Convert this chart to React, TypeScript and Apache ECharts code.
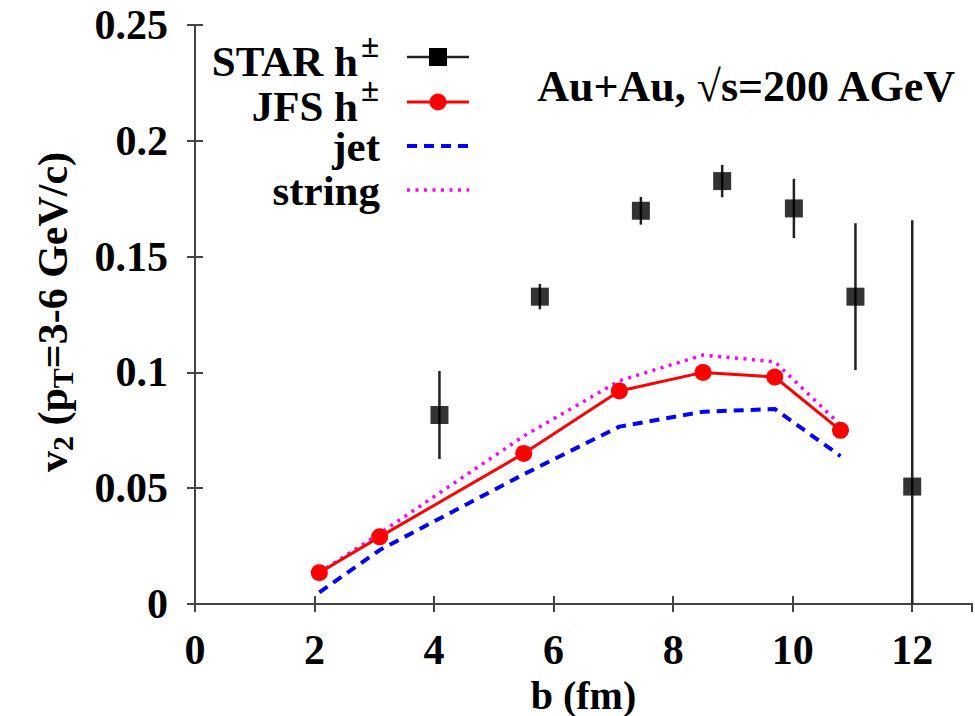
import React, { useEffect, useRef } from "react";
import * as echarts from "echarts";

// ---- data ----
const bModel = [2.08, 3.09, 5.5, 7.1, 8.5, 9.7, 10.8];
const v2JFS = [0.0135, 0.029, 0.065, 0.092, 0.1, 0.098, 0.075];
const v2Jet = [0.005, 0.0233, 0.056, 0.0766, 0.083, 0.0842, 0.0639];
const v2String = [0.0135, 0.0305, 0.0725, 0.0964, 0.1075, 0.1046, 0.0773];

const bStar = [4.09, 5.77, 7.46, 8.82, 10.02, 11.05, 12.0];
const v2Star = [0.0816, 0.1327, 0.1698, 0.1826, 0.1708, 0.1327, 0.0507];
const errStar = [0.019, 0.0055, 0.006, 0.007, 0.0128, 0.0317, 0.115];

const xTickValues = [0, 2, 4, 6, 8, 10, 12];
const yTickLabels = ["0", "0.05", "0.1", "0.15", "0.2", "0.25"];

const legendNames = ["STAR h", "JFS h", "jet", "string"];
const annotationText = "Au+Au, \u221As=200 AGeV";
const xTitle = "b (fm)";

const FONT = "Liberation Serif";
const AXIS_COLOR = "#444";
const RED = "#ff0000";
const BLUE = "#0000ff";
const MAGENTA = "#ff00ff";

export default function App() {
  const ref = useRef<HTMLDivElement>(null);

  useEffect(() => {
    if (!ref.current) return;
    const chart = echarts.init(ref.current, undefined, { renderer: "svg" });

    const zip = (xs: number[], ys: number[]) => xs.map((x, i) => [x, ys[i]]);
    const starData = bStar.map((x, i) => [x, v2Star[i], errStar[i]]);

    const tickStyle = {
      show: true,
      inside: true,
      length: 8,
      lineStyle: { color: AXIS_COLOR, width: 2 },
    };
    const axisLine = { show: true, lineStyle: { color: AXIS_COLOR, width: 2 } };
    const labelFont = {
      fontFamily: FONT,
      fontWeight: "bold" as const,
      fontSize: 42,
      color: "#000",
    };

    const legendRowsY = [57, 102, 146, 190];
    const legendTextX = 380;
    const sampleX0 = 407;
    const sampleX1 = 469;
    const sampleMid = 438;

    const textStyle = (text: string, size: number, align: string = "right", lh?: number) => ({
      text,
      fontFamily: FONT,
      fontWeight: "bold",
      fontSize: size,
      lineHeight: lh ?? size,
      fill: "#000",
      align,
      verticalAlign: "middle",
    });

    const graphic: any[] = [
      // legend texts
      { type: "text", x: 358, y: legendRowsY[0] + 4, style: textStyle(legendNames[0], 43, "right", 36) },
      { type: "text", x: 370, y: legendRowsY[0] - 11, style: textStyle("\u00B1", 33, "center", 20) },
      { type: "text", x: 358, y: legendRowsY[1] + 4, style: textStyle(legendNames[1], 43, "right", 36) },
      { type: "text", x: 370, y: legendRowsY[1] - 12, style: textStyle("\u00B1", 33, "center", 20) },
      { type: "text", x: legendTextX, y: legendRowsY[2], style: textStyle(legendNames[2], 43, "right", 36) },
      { type: "text", x: legendTextX, y: legendRowsY[3], style: textStyle(legendNames[3], 43, "right", 36) },
      // legend samples
      {
        type: "line",
        shape: { x1: sampleX0, y1: legendRowsY[0], x2: sampleX1, y2: legendRowsY[0] },
        style: { stroke: "#222", lineWidth: 2.5 },
      },
      {
        type: "rect",
        shape: { x: sampleMid - 9, y: legendRowsY[0] - 9, width: 18, height: 18 },
        style: { fill: "#000" },
      },
      {
        type: "line",
        shape: { x1: sampleX0, y1: legendRowsY[1], x2: sampleX1, y2: legendRowsY[1] },
        style: { stroke: RED, lineWidth: 3 },
      },
      {
        type: "circle",
        shape: { cx: sampleMid, cy: legendRowsY[1], r: 8.5 },
        style: { fill: RED },
      },
      {
        type: "line",
        shape: { x1: sampleX0, y1: legendRowsY[2], x2: sampleX1, y2: legendRowsY[2] },
        style: { stroke: BLUE, lineWidth: 4, lineDash: [10, 7] },
      },
      {
        type: "line",
        shape: { x1: sampleX0, y1: legendRowsY[3], x2: sampleX1, y2: legendRowsY[3] },
        style: { stroke: MAGENTA, lineWidth: 3.5, lineDash: [3, 5.5] },
      },
      // annotation
      { type: "text", x: 955, y: 86, style: textStyle(annotationText, 44, "right", 40) },
      // y axis title
      {
        type: "text",
        x: 53,
        y: 312,
        rotation: Math.PI / 2,
        style: {
          text: "{m|v}{s|2}{m| (p}{s|T}{m|=3-6 GeV/c)}",
          align: "center",
          verticalAlign: "middle",
          fill: "#000",
          rich: {
            m: { fontFamily: FONT, fontWeight: "bold", fontSize: 42, lineHeight: 50, fill: "#000" },
            s: {
              fontFamily: FONT,
              fontWeight: "bold",
              fontSize: 30,
              padding: [18, 0, 0, 0],
              fill: "#000",
            },
          },
        },
      },
    ];

    chart.setOption({
      animation: false,
      backgroundColor: "#fff",
      grid: {
        left: 195,
        right: 3,
        top: 25,
        bottom: 112,
        containLabel: false,
        outerBoundsMode: "none",
      },
      xAxis: [
        {
          type: "value",
          min: 0,
          max: 13,
          interval: 2,
          axisLine,
          axisTick: tickStyle,
          splitLine: { show: false },
          axisLabel: {
            ...labelFont,
            margin: 25,
            showMaxLabel: false,
            formatter: (v: number) => (xTickValues.includes(v) ? String(v) : ""),
          },
          name: xTitle,
          nameLocation: "middle",
          nameGap: 46,
          nameTextStyle: { ...labelFont, fontSize: 40, lineHeight: 30 },
        },
        {
          type: "value",
          position: "top",
          min: 0,
          max: 13,
          interval: 2,
          axisLine,
          axisTick: tickStyle,
          splitLine: { show: false },
          axisLabel: { show: false },
        },
      ],
      yAxis: [
        {
          type: "value",
          min: 0,
          max: 0.25,
          interval: 0.05,
          axisLine,
          axisTick: tickStyle,
          splitLine: { show: false },
          axisLabel: {
            ...labelFont,
            margin: 27,
            padding: [8, 0, 0, 0],
            formatter: (v: number) => yTickLabels[Math.round(v / 0.05)] ?? "",
          },
        },
        {
          type: "value",
          position: "right",
          min: 0,
          max: 0.25,
          interval: 0.05,
          axisLine,
          axisTick: tickStyle,
          splitLine: { show: false },
          axisLabel: { show: false },
        },
      ],
      series: [
        {
          name: "string",
          type: "line",
          data: zip(bModel, v2String),
          showSymbol: false,
          symbol: "none",
          lineStyle: { color: MAGENTA, width: 3.5, type: [3, 5.5] },
          z: 2,
        },
        {
          name: "jet",
          type: "line",
          data: zip(bModel, v2Jet),
          showSymbol: false,
          symbol: "none",
          lineStyle: { color: BLUE, width: 4, type: [10, 7] },
          z: 2,
        },
        {
          name: "JFS h",
          type: "line",
          data: zip(bModel, v2JFS),
          symbol: "circle",
          symbolSize: 17,
          itemStyle: { color: RED },
          lineStyle: { color: RED, width: 3 },
          z: 3,
        },
        {
          name: "STAR err",
          type: "custom",
          data: starData,
          renderItem: (params: any, api: any) => {
            const x = api.value(0);
            const y = api.value(1);
            const e = api.value(2);
            const top = api.coord([x, Math.min(y + e, 0.25)]);
            const bot = api.coord([x, Math.max(y - e, 0)]);
            return {
              type: "line",
              shape: { x1: top[0], y1: top[1], x2: bot[0], y2: bot[1] },
              style: { stroke: "#222", lineWidth: 2.5 },
            };
          },
          z: 4,
        },
        {
          name: "STAR h",
          type: "scatter",
          data: zip(bStar, v2Star),
          symbol: "rect",
          symbolSize: 18,
          itemStyle: { color: "#000" },
          z: 5,
        },
      ],
      graphic,
    });

    return () => chart.dispose();
  }, []);

  return (
    <div
      ref={ref}
      style={{ position: "fixed", left: 0, top: 0, width: 975, height: 716, background: "#fff" }}
    />
  );
}
